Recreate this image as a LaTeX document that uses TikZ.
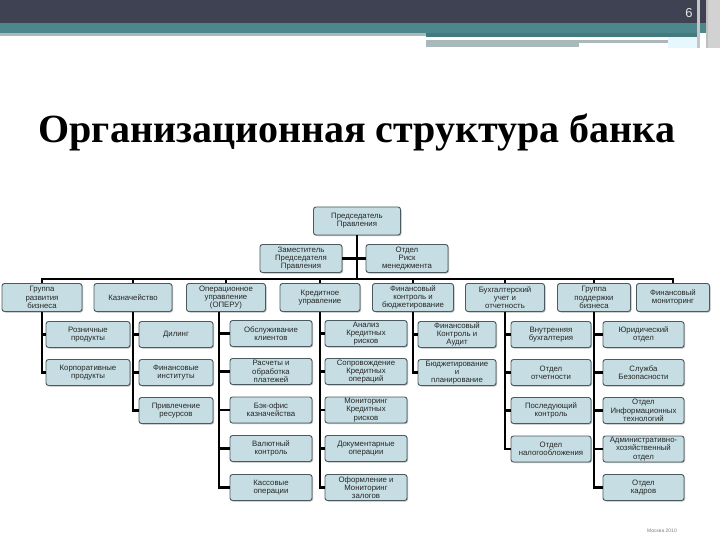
\documentclass[tikz,border=0pt]{standalone}
\usepackage{fontspec}
\setmainfont{Liberation Serif}
\setsansfont{Liberation Sans}
\usetikzlibrary{shadows}
\definecolor{boxfill}{HTML}{C6DEE3}
\definecolor{boxdraw}{HTML}{4A5A5E}
\definecolor{hdrdark}{HTML}{3F4253}
\definecolor{hdrteal}{HTML}{4B878B}
\definecolor{hdrline}{HTML}{A9B9BA}
\begin{document}
\begin{tikzpicture}[x=1pt,y=-1pt,
  box/.style={draw=boxdraw, fill=boxfill, line width=0.9pt, rounded corners=2.5pt,
    minimum height=26pt, inner sep=0.5pt, align=center,
    font=\sffamily\fontsize{7.8}{8.2}\selectfont, text=black!85,
    drop shadow={shadow xshift=1pt, shadow yshift=-1pt, fill=black!45, opacity=0.6}},
  tall/.style={minimum height=28pt},
  conn/.style={line width=2.2pt, black}]
\useasboundingbox (0,0) rectangle (720,540);
\fill[white] (0,0) rectangle (720,540);
% header
\fill[hdrdark] (0,0) rectangle (720,23);
\fill[hdrteal] (0,23) rectangle (720,33);
\fill[hdrline] (0,33) rectangle (426,36);
\fill[hdrteal!90!black] (426,33) rectangle (697,37);
\fill[hdrline] (426,40) rectangle (668,43);
\fill[hdrline] (426,43) rectangle (579,47);
\fill[cyan!10!white] (668,37) rectangle (697,48);
\fill[gray!45] (697,0) rectangle (700,48);
\fill[gray!50] (706,0) rectangle (708,48);
\fill[gray!35] (708,0) rectangle (720,48);
\node[font=\sffamily\fontsize{13}{13}\selectfont, text=white!90!black] (pg) at (689,13) {6};
% title
\node[font=\bfseries\fontsize{40}{40}\selectfont, anchor=base] (title) at (357,143) {Организационная структура банка};
\coordinate (bus) at (0,279);
% top levels
\node[box, tall, minimum width=87pt] (top) at (357,221) {Председатель\\Правления};
\node[box, tall, minimum width=82pt] (zam) at (301,258.5) {Заместитель\\Председателя\\Правления};
\node[box, tall, minimum width=82pt] (risk) at (407,258.5) {Отдел\\Риск\\менеджмента};
% row 1
\node[box, tall, minimum width=80pt] (r1) at (42,297.5) {Группа\\развития\\бизнеса};
\node[box, tall, minimum width=78pt] (r2) at (133,297.5) {Казначейство};
\node[box, tall, minimum width=79pt] (r3) at (226,297.5) {Операционное\\управление\\(ОПЕРУ)};
\node[box, tall, minimum width=80pt] (r4) at (320,297.5) {Кредитное\\управление};
\node[box, tall, minimum width=81pt] (r5) at (413,297.5) {Финансовый\\контроль и\\бюджетирование};
\node[box, tall, minimum width=79pt] (r6) at (505,297.5) {Бухгалтерский\\учет и\\отчетность};
\node[box, tall, minimum width=73pt] (r7) at (594,297.5) {Группа\\поддержки\\бизнеса};
\node[box, tall, minimum width=73pt] (r8) at (673,297.5) {Финансовый\\мониторинг};
% column 1
\node[box, minimum width=84pt] (s11) at (88,334.5) {Розничные\\продукты};
\node[box, minimum width=84pt] (s12) at (88,372.5) {Корпоративные\\продукты};
% column 2
\node[box, minimum width=74pt] (s21) at (176,334.5) {Дилинг};
\node[box, minimum width=74pt] (s22) at (176,372.5) {Финансовые\\институты};
\node[box, minimum width=74pt] (s23) at (176,410.5) {Привлечение\\ресурсов};
% column 3
\node[box, minimum width=82pt] (s31) at (271,333.5) {Обслуживание\\клиентов};
\node[box, minimum width=82pt] (s32) at (271,371.5) {Расчеты и\\обработка\\платежей};
\node[box, minimum width=82pt] (s33) at (271,410) {Бэк-офис\\казначейства};
\node[box, minimum width=82pt] (s34) at (271,448.5) {Валютный\\контроль};
\node[box, minimum width=82pt] (s35) at (271,487.5) {Кассовые\\операции};
% column 4
\node[box, minimum width=82pt] (s41) at (366,333.5) {Анализ\\Кредитных\\рисков};
\node[box, minimum width=82pt] (s42) at (366,371.5) {Сопровождение\\Кредитных\\операций};
\node[box, minimum width=82pt] (s43) at (366,410) {Мониторинг\\Кредитных\\рисков};
\node[box, minimum width=82pt] (s44) at (366,448.5) {Документарные\\операции};
\node[box, minimum width=82pt] (s45) at (366,487.5) {Оформление и\\Мониторинг\\залогов};
% column 5
\node[box, minimum width=78pt] (s51) at (457,334.5) {Финансовый\\Контроль и\\Аудит};
\node[box, minimum width=78pt] (s52) at (457,372.5) {Бюджетирование\\и\\планирование};
% column 6
\node[box, minimum width=80pt] (s61) at (551,334.5) {Внутренняя\\бухгалтерия};
\node[box, minimum width=80pt] (s62) at (551,372.5) {Отдел\\отчетности};
\node[box, minimum width=80pt] (s63) at (551,410.5) {Последующий\\контроль};
\node[box, minimum width=80pt] (s64) at (551,449) {Отдел\\налогообложения};
% column 7
\node[box, minimum width=81pt] (s71) at (643.5,334.5) {Юридический\\отдел};
\node[box, minimum width=81pt] (s72) at (643.5,372.5) {Служба\\Безопасности};
\node[box, minimum width=81pt] (s73) at (643.5,410.5) {Отдел\\Информационных\\технологий};
\node[box, minimum width=81pt] (s74) at (643.5,449) {Административно-\\хозяйственный\\отдел};
\node[box, minimum width=81pt] (s75) at (643.5,487.5) {Отдел\\кадров};
% footnote
\node[font=\sffamily\fontsize{5}{5}\selectfont, text=gray] (fn) at (662,531) {Москва 2010};
% connectors
\draw[conn] (top.south) -- (top.south |- bus);
\draw[conn] (zam.east) -- (risk.west);
\draw[conn] ([xshift=-1.1pt]r1.north |- bus) -- ([xshift=1.1pt]r8.north |- bus);
\foreach \r in {r1,r2,r3,r4,r5,r6,r7,r8}{
  \draw[conn] (\r.north) -- ([yshift=1.1pt]\r.north |- bus);
}
\foreach \s in {s11,s12}{\draw[conn] (r1.south) |- (\s.west);}
\foreach \s in {s21,s22,s23}{\draw[conn] (r2.south) |- (\s.west);}
\foreach \s in {s31,s32,s33,s34,s35}{\draw[conn] ([xshift=-7pt]r3.south) |- (\s.west);}
\foreach \s in {s41,s42,s43,s44,s45}{\draw[conn] (r4.south) |- (\s.west);}
\foreach \s in {s51,s52}{\draw[conn] (r5.south) |- (\s.west);}
\foreach \s in {s61,s62,s63,s64}{\draw[conn] (r6.south) |- (\s.west);}
\foreach \s in {s71,s72,s73,s74,s75}{\draw[conn] (r7.south) |- (\s.west);}
\end{tikzpicture}
\end{document}
